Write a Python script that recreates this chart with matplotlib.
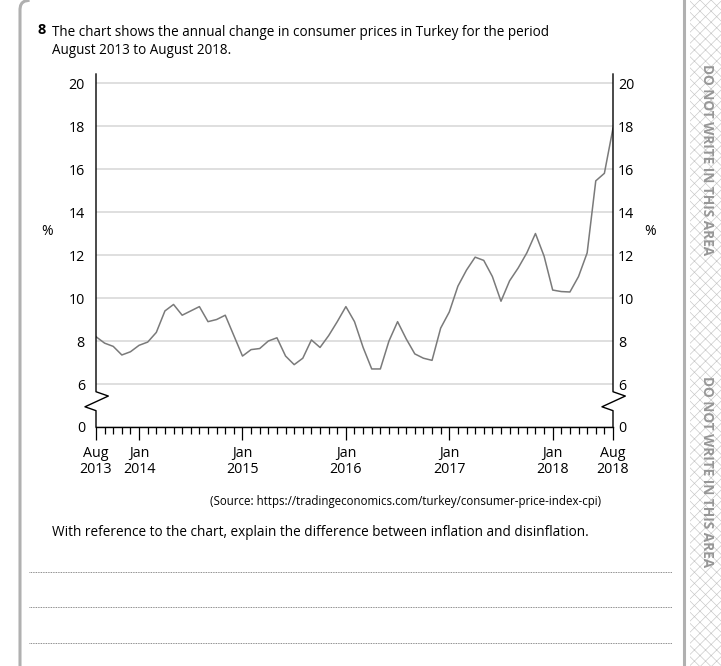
import numpy as np
import matplotlib
matplotlib.use('Agg')
import matplotlib.pyplot as plt
from matplotlib.lines import Line2D
from matplotlib.patches import Rectangle

# annual change in consumer prices, Turkey, Aug 2013 .. Aug 2018 (monthly, %)
cpi = [8.2, 7.9, 7.75, 7.35, 7.5, 7.8, 7.95, 8.4, 9.4, 9.7, 9.2, 9.4,
       9.6, 8.9, 9.0, 9.2, 8.25, 7.3, 7.6, 7.65, 8.0, 8.15, 7.3, 6.9,
       7.2, 8.05, 7.7, 8.25, 8.9, 9.6, 8.9, 7.7, 6.7, 6.7, 8.0, 8.9,
       8.1, 7.4, 7.2, 7.1, 8.6, 9.35, 10.55, 11.3, 11.9, 11.75, 11.0, 9.85,
       10.8, 11.4, 12.1, 13.0, 11.95, 10.37, 10.3, 10.28, 11.0, 12.1, 15.45, 15.8,
       17.9]
month_idx = list(range(len(cpi)))

major_pos = [0, 5, 17, 29, 41, 53, 60]
major_lab = ['Aug\n2013', 'Jan\n2014', 'Jan\n2015', 'Jan\n2016', 'Jan\n2017', 'Jan\n2018', 'Aug\n2018']

ytick_pos = [4, 6, 8, 10, 12, 14, 16, 18, 20]
ytick_lab = ['0', '6', '8', '10', '12', '14', '16', '18', '20']

W, H = 721, 666
FONT = 'Open Sans'
plt.rcParams['font.family'] = [FONT, 'DejaVu Sans']
plt.rcParams['hatch.linewidth'] = 0.45
plt.rcParams['hatch.color'] = '#c6c6c6'


def fx(px):
    return px / W


def fy(py):
    return 1 - py / H


def page_decor(fig):
    # grey strip on the right with cross hatch
    fig.add_artist(Rectangle((fx(690), 0), 1 - fx(690), 1, transform=fig.transFigure,
                             facecolor='white', edgecolor='#c6c6c6', hatch='xxx', lw=0))
    fig.add_artist(Line2D([fx(684), fx(684)], [0, 1], transform=fig.transFigure,
                          color='#b0b0b0', lw=2.2))
    # left margin line with rounded corner at the top
    lx = [20, 20, 20.6, 22, 24.5, 28]
    ly = [666, 9, 5.5, 3, 1.2, 0.5]
    fig.add_artist(Line2D([fx(v) for v in lx], [fy(v) for v in ly], transform=fig.transFigure,
                          color='#b0b0b0', lw=2.2))
    for yy in [160, 472]:
        fig.text(fx(707), fy(yy), 'DO NOT WRITE IN THIS AREA', rotation=270,
                 ha='center', va='center', fontsize=9.8, fontweight='bold',
                 color='#979797')
    # answer lines
    for yy in [572, 607, 643]:
        fig.add_artist(Line2D([fx(29), fx(672)], [fy(yy), fy(yy)], transform=fig.transFigure,
                              color='#666666', lw=0.6, ls=(0, (1, 1))))


def texts(fig):
    fig.text(fx(37), fy(30), '8', fontsize=10.5, fontweight='bold', ha='left', va='center')
    fig.text(fx(52), fy(33), 'The chart shows the annual change in consumer prices in Turkey for the period',
             fontsize=9.75, ha='left', va='center')
    fig.text(fx(52), fy(51), 'August 2013 to August 2018.', fontsize=9.75, ha='left', va='center')
    fig.text(fx(47), fy(232), '%', fontsize=10, ha='center', va='center')
    fig.text(fx(650), fy(232), '%', fontsize=10, ha='center', va='center')
    fig.text(fx(405), fy(502), '(Source: https://tradingeconomics.com/turkey/consumer-price-index-cpi)',
             fontsize=8.3, ha='center', va='center')
    fig.text(fx(52), fy(532), 'With reference to the chart, explain the difference between inflation and disinflation.',
             fontsize=9.8, ha='left', va='center')


def draw_chart(fig):
    ax = fig.add_axes([fx(96), fy(427), fx(613) - fx(96), fy(74) - fy(427)])
    ax.set_xlim(0, 60)
    ax.set_ylim(4, 20.42)
    for s in ax.spines.values():
        s.set_visible(False)

    ax.set_yticks(ytick_pos)
    ax.set_yticklabels(ytick_lab)
    ax.yaxis.grid(True, color='#d9d9d9', lw=1.2)
    ax.tick_params(axis='y', length=0, pad=8, labelsize=10.3)

    ax2 = ax.secondary_yaxis('right')
    ax2.set_yticks(ytick_pos)
    ax2.set_yticklabels(ytick_lab)
    ax2.spines['right'].set_visible(False)
    ax2.tick_params(axis='y', length=0, pad=3.6, labelsize=10.3)

    ax.set_xticks(major_pos)
    ax.set_xticklabels(major_lab, linespacing=1.1)
    ax.set_xticks(month_idx, minor=True)
    ax.tick_params(axis='x', which='major', length=9, width=0.9, pad=4.8, labelsize=10.3)
    ax.tick_params(axis='x', which='minor', length=4.8, width=0.9)

    # axis lines with the break between 0 and 6
    zig_y = [20.42, 5.64, 5.44, 4.94, 4.76, 4]
    zig_dx = [0, 0, 1.43, -1.28, 0, 0]
    for x0 in [0, 60]:
        ax.plot([x0 + d for d in zig_dx], zig_y, color='black', lw=1.0,
                clip_on=False, zorder=4)
    ax.plot([0, 60], [4, 4], color='black', lw=1.0, clip_on=False, zorder=4)

    ax.plot(month_idx, cpi, color='#7a7a7a', lw=1.1, zorder=3)


def main():
    fig = plt.figure(figsize=(W / 100, H / 100), dpi=100)
    page_decor(fig)
    texts(fig)
    draw_chart(fig)
    fig.savefig('out.png', dpi=100)


if __name__ == '__main__':
    main()
